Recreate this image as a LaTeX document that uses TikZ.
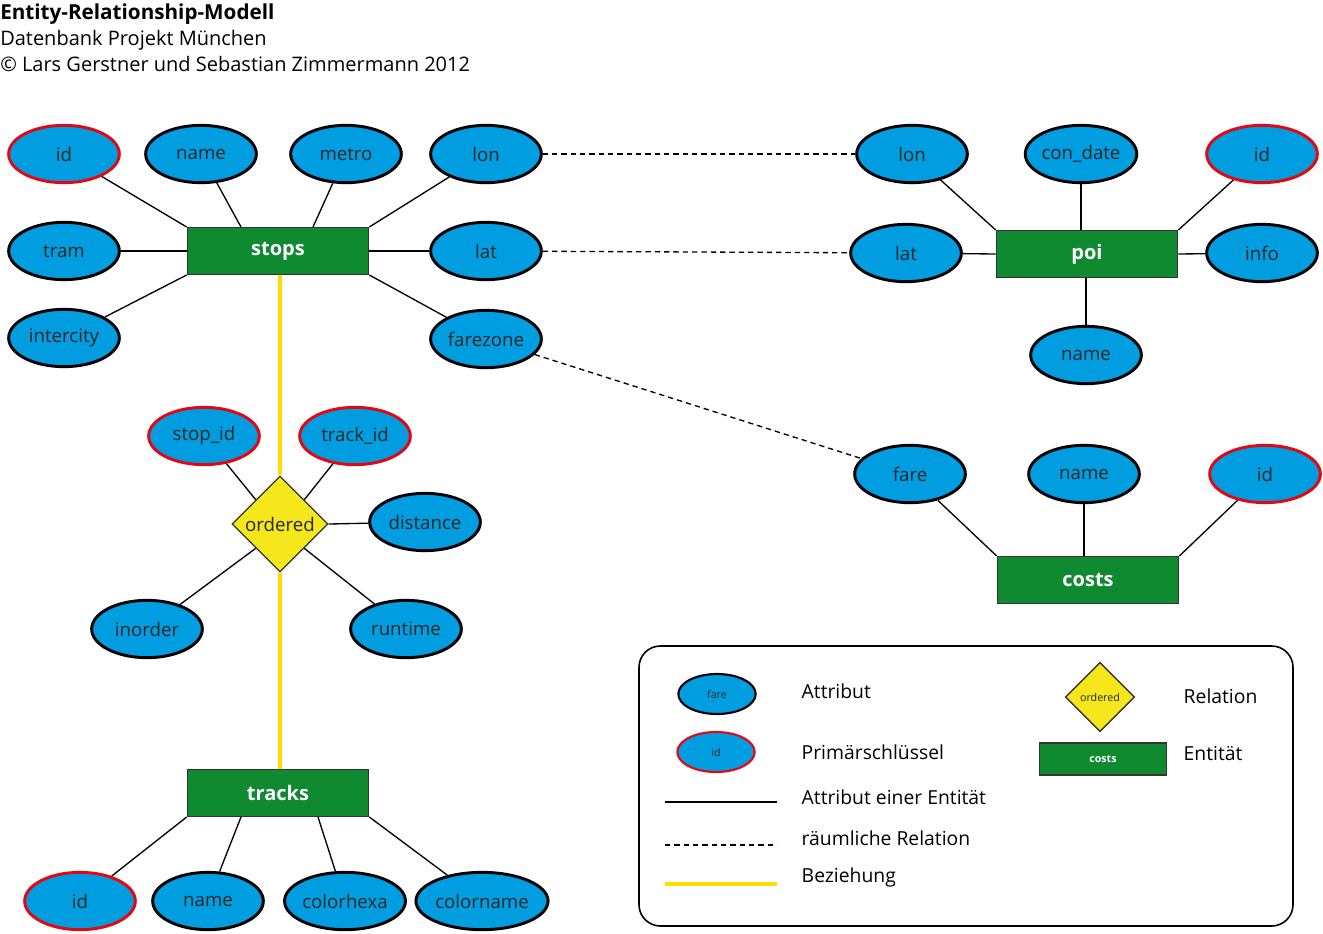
\documentclass[tikz,border=0pt]{standalone}
\usepackage{fontspec}
\setmainfont{Open Sans}
\usepackage{tikz}
\usetikzlibrary{shapes.geometric, calc}
\definecolor{cAttr}{HTML}{009EE0}
\definecolor{cKey}{HTML}{E30613}
\definecolor{cEnt}{HTML}{108A30}
\definecolor{cRel}{HTML}{F6E71C}
\definecolor{cLink}{HTML}{FFDD00}

\begin{document}
\begin{tikzpicture}[x=0.75pt, y=-0.75pt,
  attr/.style={ellipse, draw=black, line width=2.2pt, fill=cAttr, minimum width=83pt, minimum height=43pt, inner sep=0pt, text=black!85, font=\fontsize{14}{16}\selectfont},
  key/.style={attr, draw=cKey},
  entity/.style={rectangle, draw=black!80, line width=1pt, fill=cEnt, minimum width=136pt, minimum height=35pt, text=white, font=\bfseries\fontsize{15}{17}\selectfont},
  rel/.style={diamond, aspect=1, draw=black!80, line width=1pt, fill=cRel, minimum width=72pt, minimum height=72pt, inner sep=0pt, text=black!85, font=\fontsize{14}{16}\selectfont},
  conn/.style={line width=1pt},
  spatial/.style={line width=1pt, dash pattern=on 4pt off 3pt},
  link/.style={cLink, line width=2.8pt},
  lbl/.style={anchor=west, font=\fontsize{14.5}{17}\selectfont},
  head/.style={anchor=base west, inner sep=0pt, font=\fontsize{15}{18}\selectfont}
]
\useasboundingbox (0,0) rectangle (1323,933);

\node[head, font=\bfseries\fontsize{15.5}{18}\selectfont] (title) at (0,19) {Entity-Relationship-Modell};
\node[head] (project) at (0,45) {Datenbank Projekt München};
\node[head] (authors) at (0,71) {© Lars Gerstner und Sebastian Zimmermann 2012};

\node[entity] (stops) at (278,251) {stops};
\node[key] (sid) at (64,154) {id};
\foreach \n/\t/\x/\y in {sname/name/201/154, smetro/metro/346/154, slon/lon/486/154, stram/tram/64/251, slat/lat/486/251, sinter/intercity/64/338, sfare/farezone/486/339}
  {\node[attr] (\n) at (\x,\y) {\t};}
\draw[conn] (sid) -- (stops.north west);
\draw[conn] (sname) -- ($(stops.north)+(-37,0)$);
\draw[conn] (smetro) -- ($(stops.north)+(35,0)$);
\draw[conn] (slon) -- (stops.north east);
\draw[conn] (stram) -- (stops.west);
\draw[conn] (slat) -- (stops.east);
\draw[conn] (sinter) -- (stops.south west);
\draw[conn] (sfare) -- (stops.south east);

\node[rel] (ordered) at (280,524) {ordered};
\node[key] (ostop) at (204,436) {stop\_id};
\node[key] (otrack) at (355,436) {track\_id};
\foreach \n/\t/\x/\y in {odist/distance/425/522, oin/inorder/147/629, orun/runtime/406/629}
  {\node[attr] (\n) at (\x,\y) {\t};}
\draw[conn] (ostop) -- (ordered.north west);
\draw[conn] (otrack) -- (ordered.north east);
\draw[conn] (odist) -- (ordered.east);
\draw[conn] (oin) -- (ordered.south west);
\draw[conn] (orun) -- (ordered.south east);

\node[entity] (tracks) at (278,793) {tracks};
\node[key] (tid) at (80,901) {id};
\foreach \n/\t/\x/\y in {tname/name/208/901, thexa/colorhexa/345/901, tcname/colorname/482/901}
  {\node[attr] (\n) at (\x,\y) {\t};}
\draw[conn] (tid) -- (tracks.south west);
\draw[conn] (tname) -- ($(tracks.south)+(-37,0)$);
\draw[conn] (thexa) -- ($(tracks.south)+(40,0)$);
\draw[conn] (tcname) -- (tracks.south east);

\draw[link] (ordered.north |- stops.south) -- (ordered.north);
\draw[link] (ordered.south) -- (ordered.south |- tracks.north);

\node[entity] (poi) at (1087,254) {poi};
\node[key] (pid) at (1262,154) {id};
\foreach \n/\t/\x/\y in {plon/lon/912/154, pcon/con\_date/1081/154, plat/lat/906/253, pinfo/info/1262/253, pname/name/1086/355}
  {\node[attr] (\n) at (\x,\y) {\t};}
\draw[conn] (plon) -- (poi.north west);
\draw[conn] (pcon) -- (pcon |- poi.north);
\draw[conn] (pid) -- (poi.north east);
\draw[conn] (plat) -- (poi.west);
\draw[conn] (pinfo) -- (poi.east);
\draw[conn] (pname) -- (pname |- poi.south);

\node[entity] (costs) at (1088,580) {costs};
\node[key] (cid) at (1265,474) {id};
\foreach \n/\t/\x/\y in {cfare/fare/910/474, cname/name/1084/474}
  {\node[attr] (\n) at (\x,\y) {\t};}
\draw[conn] (cfare) -- (costs.north west);
\draw[conn] (cname) -- (cname |- costs.north);
\draw[conn] (cid) -- (costs.north east);

\draw[spatial] (slon) -- (plon);
\draw[spatial] (slat) -- (plat);
\draw[spatial] (sfare) -- (cfare);

\draw[line width=1.2pt, rounded corners=16pt] (639,646) rectangle (1293,926);
\node[attr, line width=1.6pt, minimum width=58pt, minimum height=30pt, font=\fontsize{8}{9}\selectfont] (lgattr) at (717,694) {fare};
\node[key, line width=1.6pt, minimum width=58pt, minimum height=30pt, font=\fontsize{8}{9}\selectfont] (lgkey) at (716,752) {id};
\node[rel, minimum width=52pt, minimum height=52pt, font=\fontsize{8}{9}\selectfont] (lgrel) at (1100,697) {ordered};
\node[entity, minimum width=95pt, minimum height=24pt, font=\bfseries\fontsize{8}{9}\selectfont] (lgent) at (1103,759) {costs};
\draw[conn] (665,802) -- (777,802);
\draw[spatial] (665,845) -- (777,845);
\draw[link] (665,884) -- (777,884);
\node[lbl] (tattr) at (797,691) {Attribut};
\node[lbl] (tkey) at (797,752) {Primärschlüssel};
\node[lbl] (tconn) at (797,797) {Attribut einer Entität};
\node[lbl] (tspatial) at (797,838) {räumliche Relation};
\node[lbl] (tlink) at (797,877) {Beziehung};
\node[lbl] (trel) at (1179,696) {Relation};
\node[lbl] (tent) at (1179,753) {Entität};
\end{tikzpicture}
\end{document}
